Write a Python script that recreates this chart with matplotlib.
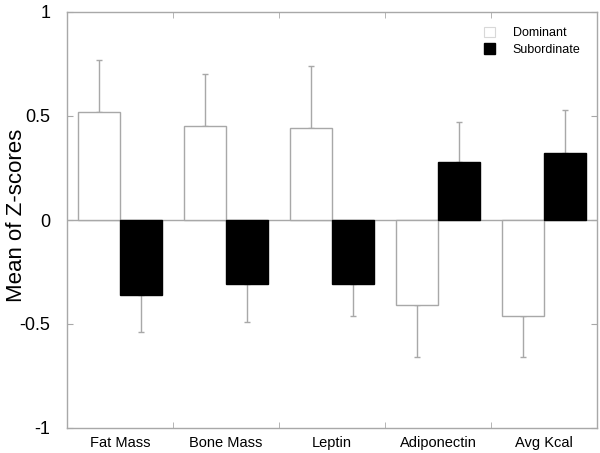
import matplotlib
matplotlib.use("Agg")
import matplotlib.pyplot as plt
from matplotlib.patches import Patch
import numpy as np

plt.rcParams['font.family'] = ['Liberation Sans', 'DejaVu Sans']

categories = ["Fat Mass", "Bone Mass", "Leptin", "Adiponectin", "Avg Kcal"]
dominant = [0.52, 0.45, 0.44, -0.41, -0.46]
dominant_err = [0.25, 0.25, 0.30, 0.25, 0.20]
subordinate = [-0.36, -0.31, -0.31, 0.28, 0.32]
subordinate_err = [0.18, 0.18, 0.15, 0.19, 0.21]
yticks = [-1, -0.5, 0, 0.5, 1]
ytick_labels = ["-1", "-0.5", "0", "0.5", "1"]

gray = "#a8a8a8"

fig = plt.figure(figsize=(6.0, 4.53), dpi=100)
ax = fig.add_axes([67/600, 1-428/453, 530/600, 416/453])

x = np.arange(1, len(categories) + 1)
w = 0.4

ax.axhline(0, color=gray, lw=1.0, zorder=1)

dom_err = [np.where(np.array(dominant) < 0, dominant_err, 0),
           np.where(np.array(dominant) >= 0, dominant_err, 0)]
sub_err = [np.where(np.array(subordinate) < 0, subordinate_err, 0),
           np.where(np.array(subordinate) >= 0, subordinate_err, 0)]

ax.bar(x - w/2, dominant, width=w, color="white", edgecolor=gray, lw=1.0, zorder=2)
ax.bar(x + w/2, subordinate, width=w, color="black", edgecolor="black", lw=1.0, zorder=2)
ax.errorbar(x - w/2, dominant, yerr=dom_err, fmt="none", ecolor=gray,
            elinewidth=1.0, capsize=2, capthick=1.0, zorder=1)
ax.errorbar(x + w/2, subordinate, yerr=sub_err, fmt="none", ecolor=gray,
            elinewidth=1.0, capsize=2, capthick=1.0, zorder=1)

ax.set_xlim(0.5, len(categories) + 0.5)
ax.set_ylim(-1, 1)
ax.set_xticks(x)
ax.set_xticklabels(categories, fontsize=10.5)
ax.set_xticks(np.arange(1.5, len(categories)), minor=True)
ax.tick_params(axis='x', which='major', length=0, pad=6)
ax.tick_params(axis='x', which='minor', direction='in', length=4, color=gray,
               top=True, bottom=True)
ax.set_yticks(yticks)
ax.set_yticklabels(ytick_labels, fontsize=13)
ax.tick_params(axis='y', direction='in', length=4, color=gray, left=True, right=True, pad=12)

for s in ax.spines.values():
    s.set_color(gray)
    s.set_linewidth(1.0)

ax.set_ylabel("Mean of Z-scores", fontsize=16)
ax.yaxis.set_label_coords(-40/530, 0.51)

handles = [Patch(facecolor="white", edgecolor="#d8d8d8", lw=0.8, label="Dominant"),
           Patch(facecolor="black", edgecolor="black", label="Subordinate")]
ax.legend(handles=handles, loc="upper right", frameon=False, fontsize=9,
          handlelength=0.9, handleheight=0.9, handletextpad=1.4, labelspacing=0.3,
          bbox_to_anchor=(0.985, 0.985), borderaxespad=0.3)

fig.savefig("out.png", dpi=100)
